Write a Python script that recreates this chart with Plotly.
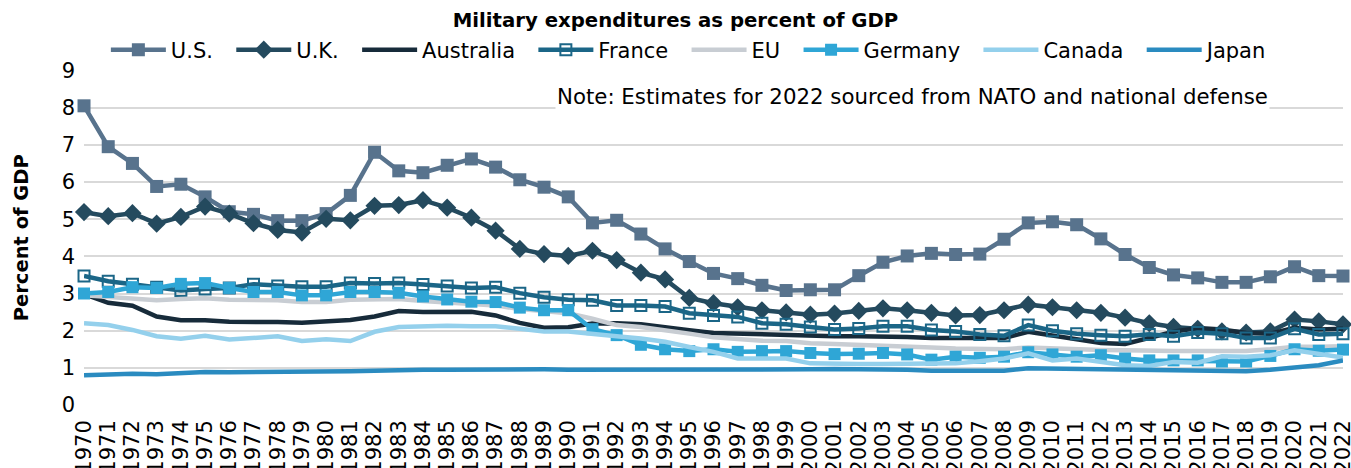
import plotly.graph_objects as go

years = list(range(1970, 2023))
tick_labels = [str(y) for y in years]

us = [8.05, 6.95, 6.5, 5.88, 5.94, 5.6, 5.2, 5.13, 4.96, 4.96, 5.15, 5.64, 6.8, 6.3, 6.25, 6.45, 6.62, 6.4, 6.06, 5.86, 5.6, 4.9, 4.97,
      4.6, 4.2, 3.86, 3.54, 3.4, 3.22, 3.08, 3.1, 3.1, 3.48, 3.84, 4.01, 4.08, 4.05, 4.06, 4.46, 4.9, 4.93, 4.85, 4.47, 4.05,
      3.7, 3.5, 3.42, 3.3, 3.3, 3.45, 3.72, 3.48, 3.47]
uk = [5.19, 5.08, 5.16, 4.88, 5.06, 5.34, 5.15, 4.89, 4.71, 4.64, 5.01, 4.97, 5.36, 5.38, 5.51, 5.31, 5.04, 4.69, 4.2, 4.06, 4.01,
      4.15, 3.9, 3.56, 3.38, 2.88, 2.74, 2.63, 2.55, 2.49, 2.43, 2.46, 2.53, 2.6, 2.55, 2.48, 2.41, 2.42, 2.55, 2.7, 2.63,
      2.55, 2.48, 2.35, 2.2, 2.1, 2.05, 1.98, 1.95, 1.98, 2.3, 2.25, 2.17]
australia = [2.98, 2.75, 2.67, 2.38, 2.28, 2.28, 2.24, 2.25, 2.23, 2.21, 2.24, 2.29, 2.38, 2.53, 2.5, 2.51, 2.51, 2.41, 2.21, 2.08,
             2.09, 2.19, 2.2, 2.17, 2.08, 2.01, 1.94, 1.92, 1.9, 1.9, 1.85, 1.85, 1.85, 1.85, 1.83, 1.8, 1.8, 1.79, 1.8, 1.97,
             1.88, 1.79, 1.67, 1.64, 1.79, 1.97, 2.07, 2.03, 1.94, 1.92, 2.08, 2.03, 2.05]
france = [3.47, 3.33, 3.25, 3.17, 3.08, 3.12, 3.15, 3.25, 3.2, 3.18, 3.18, 3.28, 3.27, 3.28, 3.24, 3.2, 3.15, 3.17, 3.01, 2.9,
          2.83, 2.82, 2.68, 2.68, 2.65, 2.47, 2.41, 2.37, 2.2, 2.17, 2.1, 2.03, 2.06, 2.12, 2.12, 2.02, 1.98, 1.9, 1.86, 2.15,
          2.0, 1.92, 1.88, 1.85, 1.9, 1.85, 1.95, 1.92, 1.8, 1.8, 2.05, 1.9, 1.92]
eu = [2.95, 2.9, 2.88, 2.82, 2.85, 2.87, 2.83, 2.82, 2.82, 2.77, 2.77, 2.83, 2.85, 2.85, 2.8, 2.75, 2.7, 2.68, 2.58, 2.52, 2.47,
      2.32, 2.15, 2.1, 2.02, 1.92, 1.82, 1.77, 1.73, 1.72, 1.66, 1.64, 1.62, 1.62, 1.6, 1.55, 1.52, 1.5, 1.5, 1.55, 1.52, 1.5,
      1.48, 1.47, 1.45, 1.45, 1.45, 1.45, 1.45, 1.5, 1.57, 1.57, 1.58]
germany = [3.0, 3.04, 3.17, 3.15, 3.26, 3.28, 3.15, 3.04, 3.04, 2.95, 2.95, 3.04, 3.04, 3.02, 2.92, 2.84, 2.78, 2.77, 2.62, 2.55,
           2.55, 2.04, 1.88, 1.62, 1.5, 1.45, 1.5, 1.43, 1.45, 1.45, 1.4, 1.37, 1.38, 1.4, 1.36, 1.22, 1.3, 1.27, 1.3, 1.42,
           1.36, 1.3, 1.34, 1.25, 1.2, 1.2, 1.2, 1.17, 1.17, 1.32, 1.5, 1.46, 1.49]
canada = [2.2, 2.15, 2.02, 1.85, 1.78, 1.86, 1.76, 1.8, 1.85, 1.72, 1.77, 1.72, 1.97, 2.1, 2.13, 2.13, 2.12, 2.12, 2.05, 1.98,
          1.98, 1.9, 1.85, 1.79, 1.7, 1.56, 1.43, 1.25, 1.25, 1.25, 1.12, 1.1, 1.1, 1.1, 1.1, 1.1, 1.12, 1.18, 1.25, 1.39, 1.2,
          1.25, 1.16, 1.07, 1.05, 1.16, 1.14, 1.31, 1.3, 1.34, 1.47, 1.37, 1.28]
japan = [0.8, 0.83, 0.84, 0.83, 0.86, 0.89, 0.88, 0.88, 0.89, 0.9, 0.9, 0.91, 0.92, 0.94, 0.95, 0.95, 0.96, 0.97, 0.96, 0.96,
         0.95, 0.95, 0.95, 0.96, 0.95, 0.94, 0.93, 0.93, 0.95, 0.96, 0.96, 0.97, 0.97, 0.97, 0.95, 0.92, 0.91, 0.9, 0.92, 0.99,
         0.98, 0.99, 0.97, 0.95, 0.95, 0.94, 0.93, 0.9, 0.91, 0.95, 1.0, 1.07, 1.2]

series = [
    ("U.S.", us, "#58738d", "square", 13),
    ("U.K.", uk, "#244a5e", "diamond", 14),
    ("Australia", australia, "#172b3a", None, 0),
    ("France", france, "#1b6687", "square-open", 11),
    ("EU", eu, "#c8cdd3", None, 0),
    ("Germany", germany, "#2fa6d6", "square", 12),
    ("Canada", canada, "#94d0ec", None, 0),
    ("Japan", japan, "#2a8bc0", None, 0),
]

fig = go.Figure()
for name, vals, color, sym, size in series:
    kw = dict(x=years, y=vals, name=name + "\u00a0\u00a0", line=dict(color=color, width=4.5), cliponaxis=False)
    if sym:
        kw["mode"] = "lines+markers"
        kw["marker"] = dict(symbol=sym, size=size, color=color,
                            line=dict(color=color, width=2 if sym == "square-open" else 0))
    else:
        kw["mode"] = "lines"
    fig.add_trace(go.Scatter(**kw))

font_family = "DejaVu Sans"
fig.update_layout(
    width=1351, height=468,
    margin=dict(l=84, r=8, t=69, b=63),
    paper_bgcolor="white", plot_bgcolor="white",
    font=dict(family=font_family, color="black"),
    title=dict(text="<b>Military expenditures as percent of GDP</b>", x=0.5, xref="container", xanchor="center",
               y=1 - 20 / 468, yref="container", yanchor="middle", font=dict(size=19.7, family=font_family)),
    showlegend=True,
    legend=dict(orientation="h", x=0.486, xanchor="center", y=1 - 50 / 468, yref="container", yanchor="middle",
                font=dict(size=21, family=font_family), bgcolor="rgba(0,0,0,0)", itemwidth=55, tracegroupgap=0),
    xaxis=dict(range=[1969.999, 2022.001], tickmode="array", tickvals=years, ticktext=tick_labels, tickangle=-90,
               showgrid=False, zeroline=False, showline=False, ticks="", tickfont=dict(size=21), automargin=False,
               ticklabelstandoff=10, ticklabeloverflow="allow"),
    yaxis=dict(range=[0, 9], dtick=1, showgrid=True, gridcolor="#d9d9d9", gridwidth=1.5, zeroline=False,
               showline=False, ticks="", tickfont=dict(size=21), automargin=False, ticklabelstandoff=8,
               title=dict(text="<b>Percent of GDP</b>", font=dict(size=19.5), standoff=27)),
    annotations=[dict(text="Note: Estimates for 2022 sourced from NATO and national defense", xref="paper", yref="paper",
                      x=0.658, y=(405 - 95) / 336, xanchor="center", yanchor="middle", showarrow=False,
                      bgcolor="white", font=dict(size=21.3, family=font_family))],
)

fig.write_html("out.html", config={"displayModeBar": False},
               post_script="document.body.style.margin='0px';document.body.style.overflow='hidden';")
